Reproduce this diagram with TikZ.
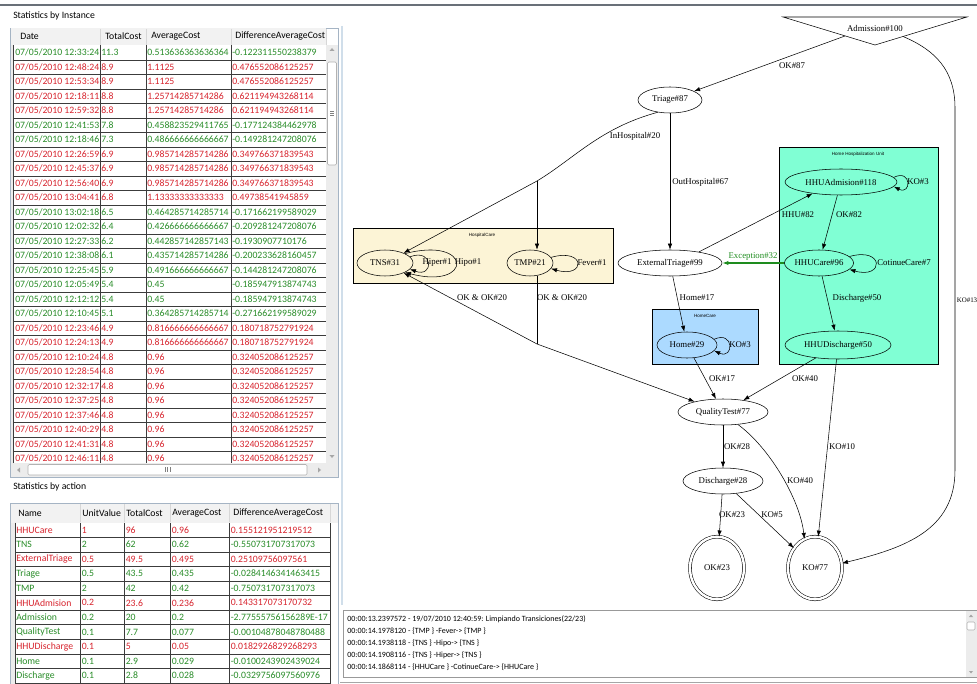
\documentclass[tikz,border=0pt]{standalone}
\usepackage{fontspec}
\setmainfont{Liberation Serif}
\newfontfamily\uiface{Carlito}
\newfontfamily\clusterface{Liberation Sans}
\usepackage{tikz}
\usepackage{xcolor}
\usetikzlibrary{arrows.meta,positioning,calc,shapes.geometric}
\definecolor{okgreen}{RGB}{40,140,40}
\definecolor{kored}{RGB}{215,35,45}
\definecolor{excc}{RGB}{30,140,30}
\definecolor{gridc}{RGB}{60,60,60}
\definecolor{framec}{RGB}{165,180,196}
\definecolor{headc}{RGB}{242,242,242}
\definecolor{sepc}{RGB}{215,215,215}
\definecolor{barc}{RGB}{236,236,236}
\definecolor{rulec}{RGB}{105,112,120}
\definecolor{panelc}{RGB}{208,222,234}
\definecolor{hospc}{RGB}{252,244,214}
\definecolor{homec}{RGB}{172,218,255}
\definecolor{hhuc}{RGB}{128,255,212}
\newcommand{\gvfont}{\fontsize{6.6}{7.5}\selectfont}
\newcommand{\tabfont}{\uiface\fontsize{7.3}{8.5}\selectfont}
\newcommand{\logfont}{\uiface\fontsize{6}{7}\selectfont}
\newcommand{\clfont}{\clusterface\fontsize{3.4}{4}\selectfont}

\begin{document}
\begin{tikzpicture}[x=0.75pt,y=-0.75pt,
  state/.style={draw,ellipse,inner sep=0pt,minimum height=19.5pt,line width=0.4pt,font=\gvfont},
  final/.style={draw,ellipse,double,double distance=1.8pt,inner sep=0pt,
                minimum width=40.5pt,minimum height=47pt,line width=0.4pt,font=\gvfont},
  trans/.style={-{Latex[length=4.5pt,width=3.2pt]},line width=0.4pt},
  lbl/.style={font=\gvfont,inner sep=0pt},
  clbl/.style={font=\clfont,inner sep=0pt},
  tcell/.style={font=\tabfont,inner sep=0pt,anchor=west},
  logline/.style={font=\logfont,inner sep=0pt,anchor=west},
  cluster/.style={draw,line width=0.4pt},
  scrollthumb/.style={draw=gray!60,fill=white,rounded corners=1pt}]
\useasboundingbox (0,0) rectangle (977,684);
\clip (0,0) rectangle (977,684);
\draw[rulec,line width=0.8pt] (0,5) -- (977,5);

% statistics by instance
\node[tcell] (ttlinst) at (13,16) {Statistics by Instance};
\draw[framec,fill=white] (10,28) rectangle (338,477);
\fill[headc] (10.5,28.5) rectangle (326,45.5);
\fill[barc] (10.5,45.5) rectangle (13,463);
\foreach \x in {100,146,231,326} \draw[sepc] (\x,29) -- (\x,45);
\node[tcell] (hdate) at (20,36) {Date};
\node[tcell] (htot) at (105,36) {TotalCost};
\node[tcell] (havg) at (151,36) {AverageCost};
\node[tcell] (hdiff) at (235,36) {DifferenceAverageCost};
\begin{scope}
\clip (10,45.5) rectangle (326,463);
\foreach \tm/\tc/\ac/\dc/\cl [count=\rw] in {
  12:33:24/11.3/0.513636363636364/-0.122311550238379/okgreen,
  12:48:24/8.9/1.1125/0.476552086125257/kored,
  12:53:34/8.9/1.1125/0.476552086125257/kored,
  12:18:11/8.8/1.25714285714286/0.621194943268114/kored,
  12:59:32/8.8/1.25714285714286/0.621194943268114/kored,
  12:41:53/7.8/0.458823529411765/-0.177124384462978/okgreen,
  12:18:46/7.3/0.486666666666667/-0.149281247208076/okgreen,
  12:26:59/6.9/0.985714285714286/0.349766371839543/kored,
  12:45:37/6.9/0.985714285714286/0.349766371839543/kored,
  12:56:40/6.9/0.985714285714286/0.349766371839543/kored,
  13:04:41/6.8/1.13333333333333/0.49738541945859/kored,
  13:02:18/6.5/0.464285714285714/-0.171662199589029/okgreen,
  12:02:32/6.4/0.426666666666667/-0.209281247208076/okgreen,
  12:27:33/6.2/0.442857142857143/-0.1930907710176/okgreen,
  12:38:08/6.1/0.435714285714286/-0.200233628160457/okgreen,
  12:25:45/5.9/0.491666666666667/-0.144281247208076/okgreen,
  12:05:49/5.4/0.45/-0.185947913874743/okgreen,
  12:12:12/5.4/0.45/-0.185947913874743/okgreen,
  12:10:45/5.1/0.364285714285714/-0.271662199589029/okgreen,
  12:23:46/4.9/0.816666666666667/0.180718752791924/kored,
  12:24:13/4.9/0.816666666666667/0.180718752791924/kored,
  12:10:24/4.8/0.96/0.324052086125257/kored,
  12:28:54/4.8/0.96/0.324052086125257/kored,
  12:32:17/4.8/0.96/0.324052086125257/kored,
  12:37:25/4.8/0.96/0.324052086125257/kored,
  12:37:46/4.8/0.96/0.324052086125257/kored,
  12:40:29/4.8/0.96/0.324052086125257/kored,
  12:41:31/4.8/0.96/0.324052086125257/kored,
  12:46:11/4.8/0.96/0.324052086125257/kored}{
  \node[tcell,text=\cl] (date\rw) at (15,{38.2+14.5*\rw}) {07/05/2010 \tm};
  \node[tcell,text=\cl] (tot\rw) at (101,{38.2+14.5*\rw}) {\tc};
  \node[tcell,text=\cl] (avg\rw) at (147,{38.2+14.5*\rw}) {\ac};
  \node[tcell,text=\cl] (diff\rw) at (232,{38.2+14.5*\rw}) {\dc};
  \draw[gridc,line width=0.5pt] (13,{45.5+14.5*\rw}) -- (326,{45.5+14.5*\rw});
}
\foreach \x in {13,100,146,231} \draw[gridc,line width=0.5pt] (\x,45.5) -- (\x,463);
\end{scope}
\fill[barc] (326,45.5) rectangle (337.5,463);
\draw[scrollthumb] (327.5,62) rectangle (336.5,165);
\foreach \y in {111,113,115} \draw[gray] (330,\y) -- (334,\y);
\fill[gray!70] (329.5,51) -- (334.5,51) -- (332,48) -- cycle;
\fill[gray!70] (329.5,455) -- (334.5,455) -- (332,458) -- cycle;
\fill[barc] (10.5,463) rectangle (337.5,476.5);
\draw[scrollthumb] (28,464.5) rectangle (307,475);
\foreach \x in {165,167.5,170} \draw[gray] (\x,467) -- (\x,472);
\fill[gray!70] (20,467.5) -- (20,472.5) -- (17,470) -- cycle;
\fill[gray!70] (318,467.5) -- (318,472.5) -- (321,470) -- cycle;

% statistics by action
\node[tcell] (ttlact) at (13,487) {Statistics by action};
\draw[framec,fill=white] (10,503) rectangle (338,700);
\fill[headc] (10.5,503.5) rectangle (337.5,522.7);
\fill[barc] (10.5,522.7) rectangle (15,700);
\foreach \x in {80,124,170,229,330} \draw[sepc] (\x,504) -- (\x,522);
\node[tcell] (hname) at (18,513) {Name};
\node[tcell] (hunit) at (82,513) {UnitValue};
\node[tcell] (htot2) at (126,513) {TotalCost};
\node[tcell] (havg2) at (172,513) {AverageCost};
\node[tcell] (hdiff2) at (233,513) {DifferenceAverageCost};
\foreach \nm/\uv/\tc/\ac/\dc/\cl [count=\rw] in {
  HHUCare/1/96/0.96/0.155121951219512/kored,
  TNS/2/62/0.62/-0.550731707317073/okgreen,
  ExternalTriage/0.5/49.5/0.495/0.25109756097561/kored,
  Triage/0.5/43.5/0.435/-0.0284146341463415/okgreen,
  TMP/2/42/0.42/-0.750731707317073/okgreen,
  HHUAdmision/0.2/23.6/0.236/0.143317073170732/kored,
  Admission/0.2/20/0.2/-2.77555756156289E-17/okgreen,
  QualityTest/0.1/7.7/0.077/-0.00104878048780488/okgreen,
  HHUDischarge/0.1/5/0.05/0.0182926829268293/kored,
  Home/0.1/2.9/0.029/-0.0100243902439024/okgreen,
  Discharge/0.1/2.8/0.028/-0.0329756097560976/okgreen}{
  \node[tcell,text=\cl] (name\rw) at (16,{515.4+14.57*\rw}) {\nm};
  \node[tcell,text=\cl] (unit\rw) at (81.5,{515.4+14.57*\rw}) {\uv};
  \node[tcell,text=\cl] (atot\rw) at (125.5,{515.4+14.57*\rw}) {\tc};
  \node[tcell,text=\cl] (aavg\rw) at (171.5,{515.4+14.57*\rw}) {\ac};
  \node[tcell,text=\cl] (adiff\rw) at (230.5,{515.4+14.57*\rw}) {\dc};
  \draw[gridc,line width=0.5pt] (15,{522.7+14.57*\rw}) -- (330,{522.7+14.57*\rw});
}
\foreach \x in {15,80,124,170,229,330} \draw[gridc,line width=0.5pt] (\x,522.7) -- (\x,700);

% process graph
\draw[panelc,line width=1pt] (342,26) -- (342,605);
\draw[cluster,fill=hospc] (353,228) rectangle (613,283);
\draw[cluster,fill=hhuc] (779,147) rectangle (938,364);
\draw[cluster,fill=homec] (652,309) rectangle (758,364);
\node[clbl] (clhosp) at (482,235) {HospitalCare};
\node[clbl] (clhhu) at (858,154) {Home Hospitalization Unit};
\node[clbl] (clhome) at (705,316) {HomeCare};

\draw[line width=0.4pt] (783,17) -- (967,17) -- (875,45) -- cycle;
\node[lbl] (adm) at (875,28) {Admission\#100};
\coordinate (adml) at (845,36);
\coordinate (admr) at (903,36.5);
\node[state,minimum width=48pt] (triage) at (670,100) {Triage\#87};
\node[state,minimum width=42pt] (tns) at (385,263) {TNS\#31};
\node[state,minimum width=34.5pt] (tmp) at (530,263) {TMP\#21};
\node[state,minimum width=78pt] (ext) at (670,263) {ExternalTriage\#99};
\node[state,minimum width=84pt] (hhua) at (841,182) {HHUAdmision\#118};
\node[state,minimum width=51pt] (hhuc) at (819,263) {HHUCare\#96};
\node[state,minimum width=79.5pt,minimum height=21pt] (hhud) at (838,345) {HHUDischarge\#50};
\node[state,minimum width=45pt] (home) at (687,345) {Home\#29};
\node[state,minimum width=67.5pt] (qt) at (723,412) {QualityTest\#77};
\node[state,minimum width=60pt] (disch) at (723,481) {Discharge\#28};
\node[final] (okf) at (717,568) {OK\#23};
\node[final] (ko) at (815,568) {KO\#77};
\coordinate (split) at (537,181);
\coordinate (merge) at (537,344);
\coordinate (kup) at (955,108);
\coordinate (kdn) at (955,470);

\draw[trans] (adml) -- (triage);
\draw[line width=0.4pt] (triage.225) .. controls (600,128) and (575,158) .. (split);
\draw[trans] (split) -- (tns);
\draw[trans] (split) -- (split |- tmp.north);
\draw[trans] (triage) -- (ext);
\draw[trans] (ext.21) -- (hhua.202);
\draw[trans] (hhua) -- (hhuc);
\draw[trans,excc,line width=1pt] (hhuc) -- (ext);
\draw[trans] (hhuc) -- (hhud);
\draw[trans] (ext) -- (home);
\draw[trans] (home) -- (qt);
\draw[trans] (hhud) -- (qt);
\draw[line width=0.4pt] (tmp.south -| merge) -- (merge);
\draw[trans] (merge) -- (tns);
\draw[trans] (merge) -- (qt);
\draw[trans] (qt) -- (disch);
\draw[trans] (qt.-40) .. controls (770,448) and (800,500) .. (ko.110);
\draw[trans] (hhud) -- (ko);
\draw[trans] (disch) -- (okf);
\draw[trans] (disch) -- (ko);
\draw[trans] (admr) .. controls (935,50) and (955,70) .. (kup) -- (kdn)
  .. controls (955,530) and (905,548) .. (ko.10);

\draw[trans] (tns.14) .. controls +(24,-9) and +(24,9) .. (tns.-14);
\draw[trans] (tns.25) .. controls +(68,-18) and +(68,18) .. (tns.-25);
\draw[trans] (tmp.15) .. controls +(35,-10) and +(35,10) .. (tmp.-15);
\draw[trans] (hhua.5) .. controls +(18,-9) and +(18,9) .. (hhua.-5);
\draw[trans] (hhuc.12) .. controls +(35,-10) and +(35,10) .. (hhuc.-12);
\draw[trans] (home.12) .. controls +(20,-9) and +(20,9) .. (home.-12);

\node[lbl] (lok87) at (792,66) {OK\#87};
\node[lbl] (linh) at (635,136) {InHospital\#20};
\node[lbl,anchor=west] (louth) at (672,182) {OutHospital\#67};
\node[lbl] (lhhu) at (798,215) {HHU\#82};
\node[lbl] (lok82) at (849,215) {OK\#82};
\node[lbl,text=excc] (lexc) at (753,257) {Exception\#32};
\node[lbl] (ldis50) at (857,298) {Discharge\#50};
\node[lbl] (lhome) at (697,298) {Home\#17};
\node[lbl] (lokok1) at (482,298) {OK \& OK\#20};
\node[lbl] (lokok2) at (562,298) {OK \& OK\#20};
\node[lbl] (lok17) at (722,379) {OK\#17};
\node[lbl] (lok40) at (805,379) {OK\#40};
\node[lbl] (lko10) at (842,447) {KO\#10};
\node[lbl] (lok28) at (737,447) {OK\#28};
\node[lbl] (lko40) at (800,481) {KO\#40};
\node[lbl] (lok23) at (732,515) {OK\#23};
\node[lbl] (lko5) at (772,515) {KO\#5};
\node[lbl,anchor=west,font=\fontsize{5.2}{6}\selectfont] (lko13) at (956.5,300) {KO\#13};
\node[lbl] (lhiper) at (437,263) {Hiper\#1};
\node[lbl] (lhipo) at (468,263) {Hipo\#1};
\node[lbl] (lfever) at (592,263) {Fever\#1};
\node[lbl] (lko3a) at (918,182) {KO\#3};
\node[lbl] (lcare) at (904,263) {CotinueCare\#7};
\node[lbl] (lko3b) at (740,345) {KO\#3};

% log
\draw[gray!80,fill=white] (343,610) rectangle (977,677);
\fill[barc] (966,610.5) rectangle (977,676.5);
\draw[scrollthumb] (967,622) rectangle (975,630);
\fill[gray!70] (969,617) -- (973,617) -- (971,614.5) -- cycle;
\fill[gray!70] (969,671) -- (973,671) -- (971,673.5) -- cycle;
\node[logline] (log1) at (347,619) {00:00:13.2397572 - 19/07/2010 12:40:59: Limpiando Transiciones(22/23)};
\node[logline] (log2) at (347,631) {00:00:14.1978120 - \{TMP \} -Fever-> \{TMP \}};
\node[logline] (log3) at (347,643) {00:00:14.1938118 - \{TNS \} -Hipo-> \{TNS \}};
\node[logline] (log4) at (347,655) {00:00:14.1908116 - \{TNS \} -Hiper-> \{TNS \}};
\node[logline] (log5) at (347,667) {00:00:14.1868114 - \{HHUCare \} -CotinueCare-> \{HHUCare \}};
\draw[gray!70] (340,682) -- (977,682);
\end{tikzpicture}
\end{document}
